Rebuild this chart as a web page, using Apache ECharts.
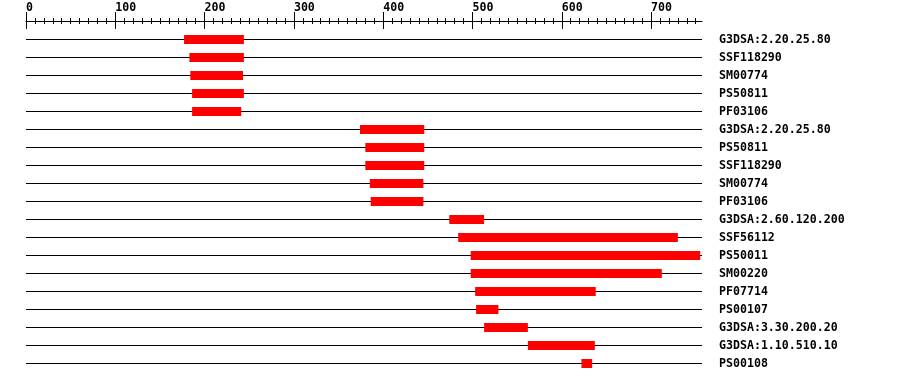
<!DOCTYPE html>
<html>
<head>
<meta charset="utf-8">
<script src="https://cdn.jsdelivr.net/npm/echarts@6/dist/echarts.min.js"></script>
<style>html,body{margin:0;padding:0;background:#fff}#c{width:900px;height:382px}</style>
</head>
<body>
<div id="c"></div>
<script>
const labels = ['G3DSA:2.20.25.80','SSF118290','SM00774','PS50811','PF03106','G3DSA:2.20.25.80','PS50811','SSF118290','SM00774','PF03106','G3DSA:2.60.120.200','SSF56112','PS50011','SM00220','PF07714','PS00107','G3DSA:3.30.200.20','G3DSA:1.10.510.10','PS00108'];
const starts = [177,183,184,186,186,374,380,380,385,386,474,484,498,498,503,504,513,562,622];
const ends   = [244,244,243,244,241,446,446,446,445,445,513,730,755,712,638,529,562,637,634];
const seqLength = 757;
const majorTicks = [0,100,200,300,400,500,600,700];
const minorTicks = [];
for (let v = 0; v <= 750; v += 10) minorTicks.push(v);

const FONT = '"DejaVu Sans Mono", "Liberation Mono", monospace';
const data = labels.map((l, i) => [i, starts[i], ends[i]]);

function topAxis(opts) {
  return Object.assign({
    type: 'value', position: 'top', min: 0, max: seqLength, offset: 9,
    gridIndex: 0, splitLine: {show: false},
    axisLine: {show: false}, axisLabel: {show: false}, axisTick: {show: false}
  }, opts);
}

const chart = echarts.init(document.getElementById('c'), null, {renderer: 'canvas'});
chart.setOption({
  animation: false,
  backgroundColor: '#fff',
  grid: {left: 26, width: 676, top: 30.5, height: 342},
  xAxis: [
    topAxis({
      axisLine: {show: true, lineStyle: {color: '#000', width: 1}},
      axisTick: {show: true, inside: false, length: 9.5, customValues: majorTicks, lineStyle: {color: '#000'}},
      axisLabel: {show: true, customValues: majorTicks, align: 'left', verticalAlign: 'middle', margin: 14,
        color: '#000', fontFamily: FONT, fontWeight: 'bold', fontSize: 11.6}
    }),
    topAxis({axisTick: {show: true, inside: true, length: 7.5, customValues: majorTicks, lineStyle: {color: '#000'}}}),
    topAxis({axisTick: {show: true, inside: false, length: 3.5, customValues: minorTicks, lineStyle: {color: '#000'}}}),
    topAxis({axisTick: {show: true, inside: true, length: 2.5, customValues: minorTicks, lineStyle: {color: '#000'}}})
  ],
  yAxis: {
    type: 'category', position: 'right', inverse: true, data: labels,
    axisLine: {show: false}, axisTick: {show: false}, splitLine: {show: false},
    axisLabel: {align: 'left', margin: 17, color: '#000', fontFamily: FONT, fontWeight: 'bold', fontSize: 11.6, interval: 0}
  },
  series: [{
    type: 'custom',
    xAxisIndex: 0,
    data: data,
    encode: {x: [1, 2], y: 0},
    renderItem: function (params, api) {
      const i = api.value(0);
      const a = api.coord([0, i]);
      const b = api.coord([seqLength, i]);
      const s = api.coord([api.value(1), i]);
      const e = api.coord([api.value(2), i]);
      const y = a[1];
      return {
        type: 'group',
        children: [
          {type: 'line', shape: {x1: a[0], y1: y, x2: b[0], y2: y}, style: {stroke: '#000', lineWidth: 1}},
          {type: 'rect', shape: {x: s[0], y: y - 4.5, width: e[0] - s[0], height: 9}, style: {fill: '#ff0000'}}
        ]
      };
    }
  }]
});
</script>
</body>
</html>
